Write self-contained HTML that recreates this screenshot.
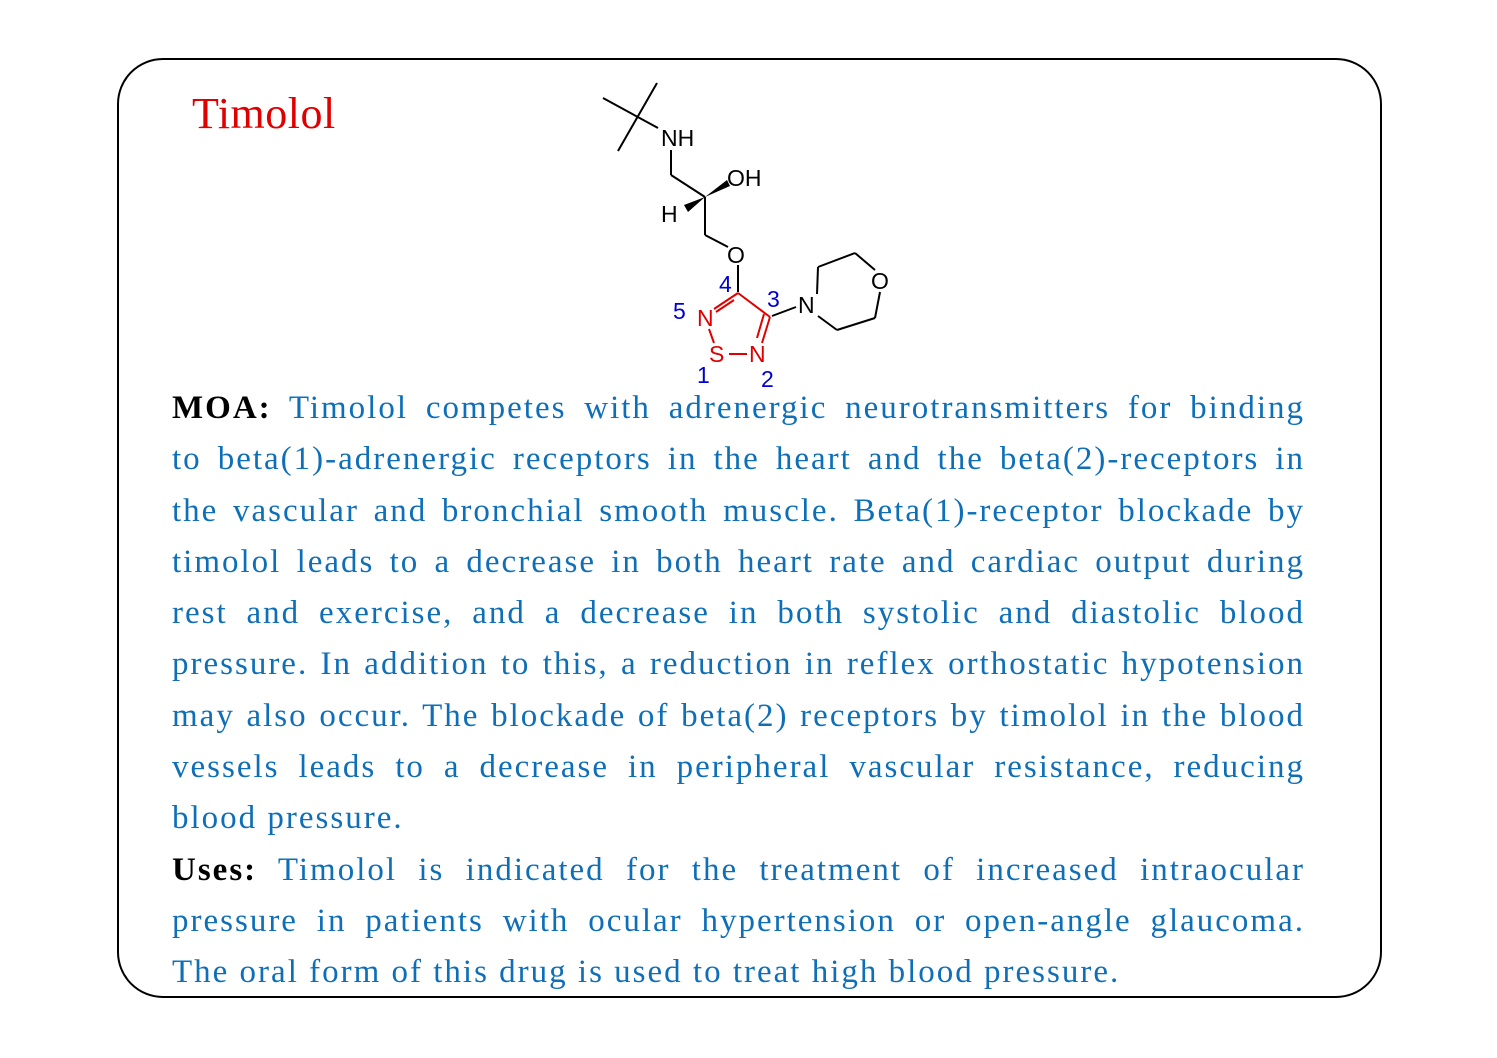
<!DOCTYPE html>
<html><head><meta charset="utf-8"><style>
html,body{margin:0;padding:0;background:#fff;}
body{width:1497px;height:1058px;position:relative;overflow:hidden;font-family:"Liberation Serif",serif;}
.box{position:absolute;left:117px;top:58px;width:1261px;height:936px;border:2px solid #000;border-radius:46px;}
.title{position:absolute;left:192px;top:88px;font-size:44px;color:#e00000;letter-spacing:0.5px;}
.txt{position:absolute;left:172px;top:383px;width:1133px;font-size:33px;line-height:51.3px;color:#0e6fb8;letter-spacing:2px;}
.l{text-align:justify;text-align-last:justify;white-space:nowrap;}
.last{text-align-last:left;}
b{color:#000;}
svg{position:absolute;left:0;top:0;}
</style></head><body>
<div class="box"></div>
<div class="title">Timolol</div>
<svg width="1497" height="1058" font-family="Liberation Sans, sans-serif" font-size="23">
<g stroke="#000" stroke-width="2" fill="none">
<line x1="603" y1="98" x2="658" y2="128"/>
<line x1="618" y1="151" x2="657" y2="83"/>
<line x1="671" y1="150" x2="671" y2="175"/>
<line x1="671" y1="175" x2="705" y2="197"/>
<line x1="705" y1="197" x2="705" y2="235"/>
<line x1="705" y1="235" x2="728" y2="247"/>
<line x1="738" y1="265" x2="738" y2="292"/>
<line x1="772" y1="316" x2="796" y2="307"/>
<line x1="817" y1="294" x2="818" y2="267"/>
<line x1="818" y1="267" x2="855" y2="253"/>
<line x1="855" y1="253" x2="875" y2="270"/>
<line x1="880" y1="292" x2="875" y2="318"/>
<line x1="875" y1="318" x2="837" y2="330"/>
<line x1="837" y1="330" x2="818" y2="316"/>
</g>
<polygon points="705,197 727,180 730,186" fill="#000"/>
<polygon points="705,197 684,205 688,212" fill="#000"/>
<g stroke="#e00000" stroke-width="2" fill="none">
<line x1="738" y1="293" x2="770" y2="317"/>
<line x1="738" y1="293" x2="714" y2="309"/>
<line x1="734" y1="300" x2="716" y2="312"/>
<line x1="770" y1="317" x2="762" y2="343"/>
<line x1="764" y1="314" x2="757" y2="338"/>
<line x1="709" y1="329" x2="714" y2="343"/>
<line x1="729" y1="354" x2="747" y2="354"/>
</g>
<g fill="#000">
<text x="661" y="146">NH</text>
<text x="727" y="186">OH</text>
<text x="661" y="222">H</text>
<text x="727" y="263">O</text>
<text x="798" y="313">N</text>
<text x="871" y="289">O</text>
</g>
<g fill="#e00000">
<text x="697" y="326">N</text>
<text x="709" y="362">S</text>
<text x="749" y="362">N</text>
</g>
<g fill="#0000d0">
<text x="719" y="292">4</text>
<text x="767" y="307">3</text>
<text x="673" y="319">5</text>
<text x="697" y="383">1</text>
<text x="761" y="387">2</text>
</g>
</svg>
<div class="txt">
<div class="l"><b>MOA:</b> Timolol competes with adrenergic neurotransmitters for binding</div>
<div class="l">to beta(1)-adrenergic receptors in the heart and the beta(2)-receptors in</div>
<div class="l">the vascular and bronchial smooth muscle. Beta(1)-receptor blockade by</div>
<div class="l">timolol leads to a decrease in both heart rate and cardiac output during</div>
<div class="l">rest and exercise, and a decrease in both systolic and diastolic blood</div>
<div class="l">pressure. In addition to this, a reduction in reflex orthostatic hypotension</div>
<div class="l">may also occur. The blockade of beta(2) receptors by timolol in the blood</div>
<div class="l">vessels leads to a decrease in peripheral vascular resistance, reducing</div>
<div class="l last">blood pressure.</div>
<div class="l"><b>Uses:</b> Timolol is indicated for the treatment of increased intraocular</div>
<div class="l">pressure in patients with ocular hypertension or open-angle glaucoma.</div>
<div class="l last">The oral form of this drug is used to treat high blood pressure.</div>
</div>
</body></html>
